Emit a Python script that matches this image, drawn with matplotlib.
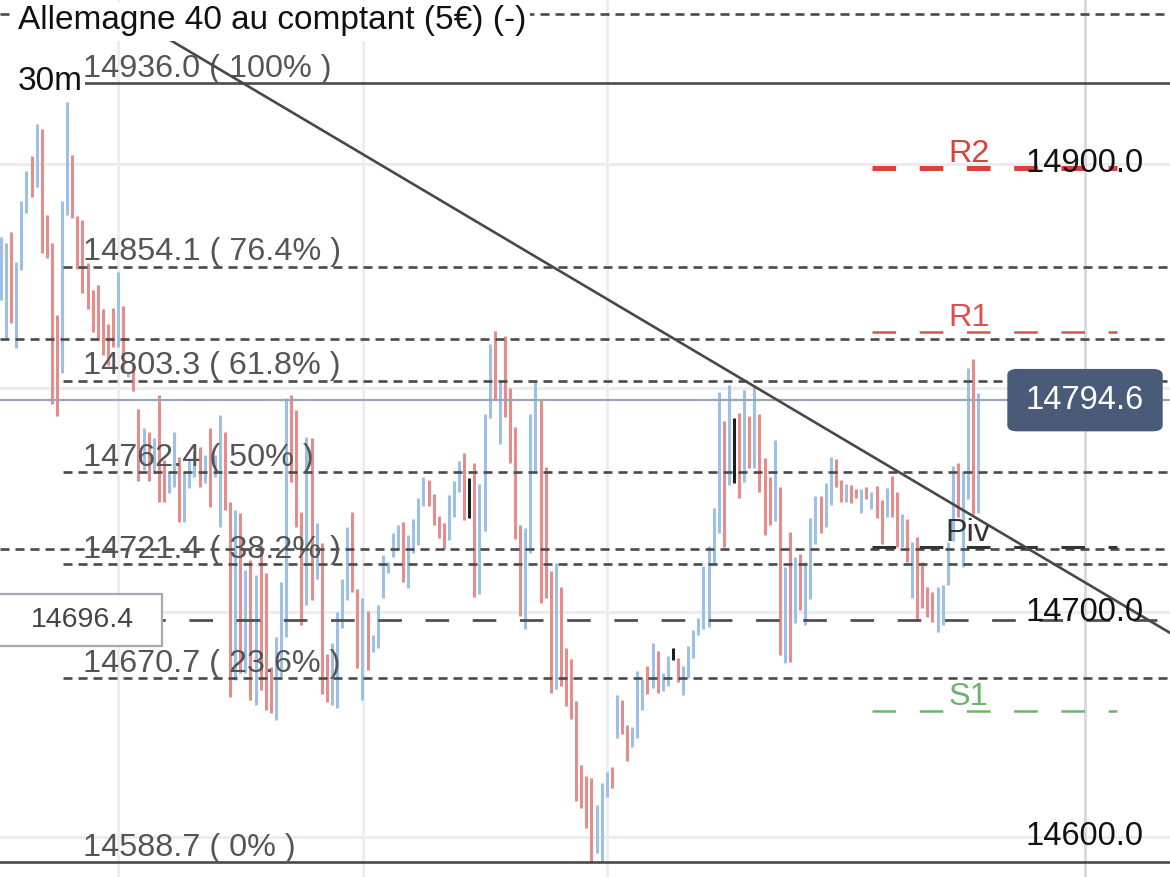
import matplotlib
matplotlib.use("Agg")
import matplotlib.pyplot as plt
from matplotlib.patches import FancyBboxPatch
from matplotlib.transforms import blended_transform_factory
import numpy as np

plt.rcParams['font.family'] = ['Liberation Sans', 'DejaVu Sans']
plt.rcParams['lines.scale_dashes'] = False

# ---- 30 minute bars (high / low, direction: B = up, R = down, K = marked) ----
highs = [
    14867.3, 14864.6, 14869.5, 14856.2, 14883.4, 14896.8, 14903.4, 14917.7, 14915.5, 14877.1,
    14864.6, 14832.5, 14883.4, 14927.5, 14903.9, 14876.5, 14874.9, 14855.7, 14843.7, 14845.9,
    14835.2, 14828.5, 14835.6, 14851.7, 14836.5, 14807.1, 14811.6, 14790.7, 14782.2, 14780.4,
    14777.8, 14796.9, 14767.9, 14762.6, 14780.4, 14769.2, 14762.6, 14767.9, 14771.5, 14773.7,
    14770.2, 14782.2, 14770.2, 14788.0, 14780.4, 14749.2, 14745.6, 14744.3, 14718.9, 14723.4,
    14716.7, 14730.0, 14717.6, 14675.6, 14689.0, 14713.5, 14795.6, 14796.9, 14790.2, 14744.7,
    14778.3, 14777.8, 14739.8, 14730.9, 14681.4, 14686.3, 14700.2, 14714.9, 14738.1, 14744.7,
    14710.4, 14706.4, 14700.6, 14689.9, 14703.3, 14725.6, 14722.5, 14735.4, 14739.0, 14740.3,
    14734.5, 14741.6, 14751.0, 14760.4, 14759.0, 14752.8, 14743.0, 14739.8, 14752.3, 14758.5,
    14767.4, 14771.0, 14759.9, 14766.5, 14757.2, 14788.5, 14819.6, 14825.4, 14803.0, 14823.2,
    14800.0, 14782.7, 14739.0, 14737.7, 14788.5, 14802.6, 14794.7, 14764.8, 14718.5, 14722.0,
    14711.3, 14684.1, 14679.2, 14660.5, 14632.0, 14627.1, 14626.2, 14614.1, 14624.0, 14628.9,
    14631.1, 14663.1, 14660.9, 14649.7, 14648.9, 14673.9, 14670.3, 14676.1, 14686.3, 14682.8,
    14673.0, 14680.5, 14684.1, 14679.7, 14676.1, 14685.0, 14692.1, 14697.5, 14720.7, 14729.6,
    14746.5, 14798.2, 14785.3, 14801.3, 14786.7, 14788.9, 14799.1, 14787.6, 14801.3, 14788.5,
    14768.8, 14760.4, 14776.9, 14755.9, 14720.3, 14735.8, 14724.7, 14726.0, 14722.5, 14742.1,
    14751.9, 14751.9, 14757.7, 14769.2, 14768.4, 14759.0, 14757.2, 14756.8, 14755.0, 14755.0,
    14755.9, 14753.6, 14756.3, 14750.1, 14755.4, 14760.8, 14753.6, 14743.9, 14741.6, 14731.4,
    14733.6, 14722.5, 14711.3, 14709.1, 14711.3, 14712.2, 14731.4, 14765.3, 14766.5, 14763.0,
    14808.9, 14812.9, 14797.8,
]
lows = [
    14839.2, 14822.3, 14828.9, 14817.8, 14852.6, 14878.0, 14885.2, 14889.6, 14860.2, 14857.9,
    14792.9, 14787.6, 14806.7, 14877.1, 14875.8, 14853.0, 14842.3, 14835.2, 14824.9, 14822.3,
    14814.7, 14810.2, 14818.3, 14818.3, 14806.7, 14804.9, 14798.6, 14758.5, 14763.5, 14758.5,
    14762.6, 14749.2, 14749.2, 14753.2, 14755.9, 14740.3, 14740.3, 14755.4, 14760.4, 14755.9,
    14757.7, 14747.0, 14760.4, 14738.1, 14745.6, 14662.3, 14669.8, 14673.0, 14673.0, 14660.9,
    14658.7, 14665.3, 14656.4, 14655.1, 14651.9, 14671.2, 14689.0, 14758.1, 14738.1, 14694.4,
    14703.3, 14705.5, 14714.9, 14663.6, 14660.0, 14658.7, 14657.3, 14693.0, 14705.5, 14709.1,
    14675.2, 14660.9, 14674.3, 14682.3, 14684.1, 14706.4, 14717.6, 14724.7, 14727.8, 14713.5,
    14710.9, 14726.5, 14730.0, 14747.4, 14747.4, 14739.0, 14733.2, 14728.3, 14732.3, 14742.5,
    14753.6, 14741.2, 14742.1, 14706.8, 14708.2, 14736.3, 14786.7, 14794.7, 14775.1, 14787.1,
    14766.5, 14732.7, 14698.4, 14692.6, 14726.5, 14763.0, 14704.2, 14706.4, 14664.0, 14665.8,
    14667.1, 14658.2, 14652.4, 14615.9, 14612.7, 14603.8, 14588.7, 14592.7, 14588.7, 14617.7,
    14621.7, 14643.9, 14645.7, 14633.7, 14640.0, 14643.9, 14656.4, 14663.6, 14666.2, 14664.0,
    14664.9, 14667.1, 14678.8, 14669.0, 14663.1, 14670.7, 14679.7, 14689.9, 14692.6, 14693.5,
    14721.6, 14735.4, 14729.1, 14756.7, 14757.7, 14751.0, 14758.1, 14764.3, 14764.3, 14753.6,
    14734.5, 14739.0, 14740.8, 14680.9, 14677.3, 14677.8, 14695.3, 14701.0, 14694.4, 14706.0,
    14730.5, 14735.4, 14738.1, 14747.9, 14755.9, 14749.2, 14749.2, 14748.8, 14751.0, 14744.3,
    14750.6, 14746.1, 14742.1, 14730.5, 14742.5, 14742.5, 14729.1, 14729.1, 14722.5, 14706.4,
    14696.2, 14702.0, 14697.9, 14695.8, 14691.3, 14694.4, 14712.2, 14731.8, 14742.5, 14720.2,
    14750.6, 14743.7, 14744.3,
]
directions = (
    "BBRBBBRBRR" "RRBBRRRRRR" "RRRBRBRRBR" "BRRBBRBBBR" "BRBBRRBRBR"
    "BRRRBBBRRR" "BRBRRBBBBR" "RBRBBBBBBR" "BBBBRRRRBB" "BRKRBBBRBR"
    "RRRBBBRRRB" "RRRRRRRBBB" "RBRRBBBRBR" "BBKRBBBBBB" "BBRBKRBRBR"
    "RRBRBRBRBB" "BRBBRRBRRB" "RBRRBRRBRB" "RRRRBBBBRB" "BRB"
)

# ---- Drawing objects ----
fib_levels = [14936.0, 14854.1, 14803.3, 14762.4, 14721.4, 14670.7, 14588.7]
fib_pcts = ["100%", "76.4%", "61.8%", "50%", "38.2%", "23.6%", "0%"]
extra_levels = [14966.8, 14821.9, 14728.2]
alert_level = 14696.4
pivot_names = ["R2", "R1", "Piv", "S1"]
pivot_values = [14898.0, 14825.0, 14729.1, 14656.0]
pivot_colors = ["#D8423B", "#D8534E", "#333333", "#6BB56A"]
pivot_widths = [3.6, 1.8, 2.2, 1.8]
last_price = 14794.6
grid_prices = [14900.0, 14800.0, 14700.0, 14600.0]
price_labels = [14900.0, 14700.0, 14600.0]
day_breaks = [23.0, 71.1, 119.1]
now_line = 213.0
trend_anchor_x = [33.2, 229.7]
trend_anchor_y = [14955.2, 14690.8]

title = "Allemagne 40 au comptant (5€) (-)"
timeframe = "30m"

COL = {"B": "#9EC0E6", "R": "#E58D8D", "K": "#1E1E1E"}
FS = 24
FS_FIB = 23.3
FS_AXIS = 23.5

fig = plt.figure(figsize=(11.70, 8.77), dpi=100)
ax = fig.add_axes([0, 0, 1, 1])
ax.set_xlim(-0.2, 229.66)
ax.set_ylim(14582.0, 14973.0)
ax.axis("off")

# grid
for p in grid_prices:
    ax.axhline(p, color="#EBEBEF", lw=2.0, zorder=0)
for d in day_breaks:
    ax.axvline(d, color="#EDEDF1", lw=2.0, zorder=0)
ax.axvline(now_line, color="#DADAE0", lw=2.2, zorder=0)

# bars
x = np.arange(len(highs))
colors = [COL[c] for c in directions]
ax.vlines(x, lows, highs, colors=colors, lw=2.2, zorder=2)

# current price line
ax.axhline(last_price, color="#9AA5B8", lw=1.6, zorder=3)

# extra levels across the chart
for lv in extra_levels:
    ax.axhline(lv, color="#4A4A4A", lw=1.9, dashes=(6.5, 4.3), zorder=4)

# alert level with long dashes
ax.axhline(alert_level, color="#505050", lw=2.0, dashes=(17, 17), zorder=4)

# fibonacci retracement
fib_x0 = 12.2
for lv, pct in zip(fib_levels, fib_pcts):
    if pct in ("100%", "0%"):
        x0 = fib_x0 if pct == "100%" else -1
        ax.plot([x0, 232], [lv, lv], color="#4A4A4A", lw=1.9, zorder=4,
                solid_capstyle="butt")
    else:
        ax.plot([fib_x0, 232], [lv, lv], color="#4A4A4A", lw=1.9,
                dashes=(6.5, 4.3), zorder=4)
    ax.annotate(f"{lv:.1f} ( {pct} )", (16.1, lv), xytext=(0, 4.5),
                textcoords="offset points", ha="left", va="baseline",
                fontsize=FS_FIB, color="#555555", zorder=5)

# pivot points
for name, val, col, lw in zip(pivot_names, pivot_values, pivot_colors, pivot_widths):
    ax.plot([171.1, 219.3], [val, val], color=col, lw=lw, dashes=(17, 17), zorder=4)
    ax.annotate(name, (185.5 if name == "Piv" else 186.2, val), xytext=(0, 4.5),
                textcoords="offset points", ha="left", va="baseline",
                fontsize=FS_FIB, color=col, zorder=5)

# trend line
tx = np.array([27.0, 232.0])
slope = (trend_anchor_y[1] - trend_anchor_y[0]) / (trend_anchor_x[1] - trend_anchor_x[0])
ty = trend_anchor_y[0] + slope * (tx - trend_anchor_x[0])
ax.plot(tx, ty, color="#484848", lw=1.9, zorder=6)

# price scale labels
tr = blended_transform_factory(ax.transAxes, ax.transData)
for p in price_labels:
    ax.text(1025 / 1170, p, f"{p:.1f}", transform=tr, ha="left", va="center",
            fontsize=FS_AXIS, color="#111111", zorder=7)

# last price tag
ylo, yhi = ax.get_ylim()
def to_axes_y(v):
    return (v - ylo) / (yhi - ylo)

box_h = 61 / 877
yc = to_axes_y(last_price)
tag = FancyBboxPatch((1008 / 1170, yc - box_h / 2), 154 / 1170, box_h,
                     boxstyle="round,pad=0,rounding_size=0.008",
                     transform=ax.transAxes, fc="#4A5A79", ec="#4A5A79",
                     lw=1, zorder=8, mutation_aspect=877 / 1170)
ax.add_patch(tag)
ax.text(1085 / 1170, yc, f"{last_price:.1f}", transform=ax.transAxes,
        ha="center", va="center", fontsize=FS_AXIS, color="white", zorder=9)

# alert tag on the left
box_h2 = 52 / 877
yc2 = to_axes_y(alert_level)
tag2 = FancyBboxPatch((-2 / 1170, yc2 - box_h2 / 2), 164 / 1170, box_h2,
                      boxstyle="square,pad=0", transform=ax.transAxes,
                      fc="white", ec="#A8A8B2", lw=1.6, zorder=8)
ax.add_patch(tag2)
ax.text(82 / 1170, yc2, f"{alert_level:.1f}", transform=ax.transAxes,
        ha="center", va="center", fontsize=20.5, color="#444444", zorder=9)

# header
ax.text(18 / 1170, 1 - 21 / 877, title, transform=ax.transAxes, ha="left",
        va="center", fontsize=FS, color="#111111", zorder=10,
        bbox=dict(boxstyle="square,pad=0.12", fc="white", ec="none"))
ax.text(18 / 1170, 1 - 82 / 877, timeframe, transform=ax.transAxes, ha="left",
        va="center", fontsize=FS, color="#111111", zorder=10,
        bbox=dict(boxstyle="square,pad=0.05", fc="white", ec="none"))

fig.savefig("out.png", dpi=100)
